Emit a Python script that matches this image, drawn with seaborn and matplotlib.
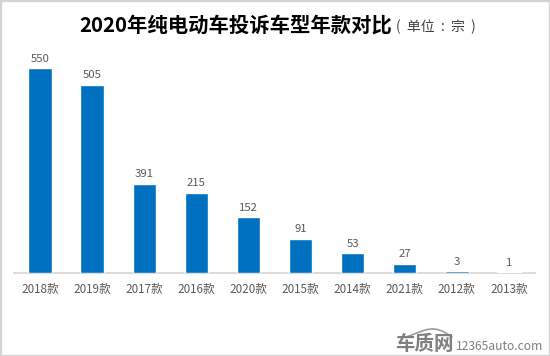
import matplotlib
matplotlib.use("Agg")
import matplotlib.pyplot as plt
import seaborn as sns
import pandas as pd
import numpy as np
from matplotlib.patches import Rectangle

models = ["2018款", "2019款", "2017款", "2016款", "2020款", "2015款", "2014款", "2021款", "2012款", "2013款"]
# printed value labels
counts = [550, 505, 391, 215, 152, 91, 53, 27, 3, 1]
# heights as drawn in the picture (the 2017 bar is visibly shorter than its 391 label)
bar_heights = [550, 505, 239, 215, 150, 91, 53, 24, 3, 1]
title_main = "2020年纯电动车投诉车型年款对比"
title_unit = "(  单位  :  宗  )"
brand = "车质网"
site = "12365auto.com"

sns.set_theme(style="white")
plt.rcParams['font.family'] = ['Noto Sans CJK SC', 'DejaVu Sans']

W, H = 550, 356
fig = plt.figure(figsize=(W/100, H/100), dpi=100, facecolor="white")
ax = fig.add_axes([14/W, 1-272.5/H, 521/W, (272.5-40)/H])
df = pd.DataFrame({"model": models, "height": bar_heights})
sns.barplot(data=df, x="model", y="height", color="#0070C0", saturation=1, width=0.45, ax=ax, zorder=3)
ax.set_xlim(-0.5, 9.5)
ax.set_ylim(0, 232.5/0.372)
ax.set_xlabel(""); ax.set_ylabel("")
ax.set_yticks([])
for s in ["top", "left", "right"]:
    ax.spines[s].set_visible(False)
ax.spines["bottom"].set_color("#D9D9D9")
ax.spines["bottom"].set_linewidth(1.3)
ax.spines["bottom"].set_zorder(1)
ax.spines["bottom"].set_position(("outward", 0.5))
ax.tick_params(axis="x", length=0, pad=7.3, labelsize=8.4, labelcolor="#595959")
ax.bar_label(ax.containers[0], labels=[str(c) for c in counts], padding=3, fontsize=8.2, color="#595959")

fig.text(79/W, 1-25/H, title_main, fontsize=14.65, fontweight="bold", color="black", va="center", ha="left")
fig.text(396/W, 1-27/H, title_unit, fontsize=10, color="#404040", va="center", ha="left")

fig.text(395/W, 1-344/H, brand, fontsize=14, fontweight="bold", color="#7F7F7F", va="center", ha="left")
fig.text(456/W, 1-347/H, site, fontsize=8.7, color="#7F7F7F", va="center", ha="left")
t = np.linspace(0, 1, 40)
fig.add_artist(plt.Line2D((405 + 47*t)/W, 1-(337 - 8*np.sin(np.pi*t**1.3))/H, color="#9A9A9A", lw=1.2, transform=fig.transFigure))

fig.add_artist(Rectangle((0, 0), 1, 1, transform=fig.transFigure, fill=False, edgecolor="#D4D4D4", lw=2.4))
fig.savefig("out.png", dpi=100)
